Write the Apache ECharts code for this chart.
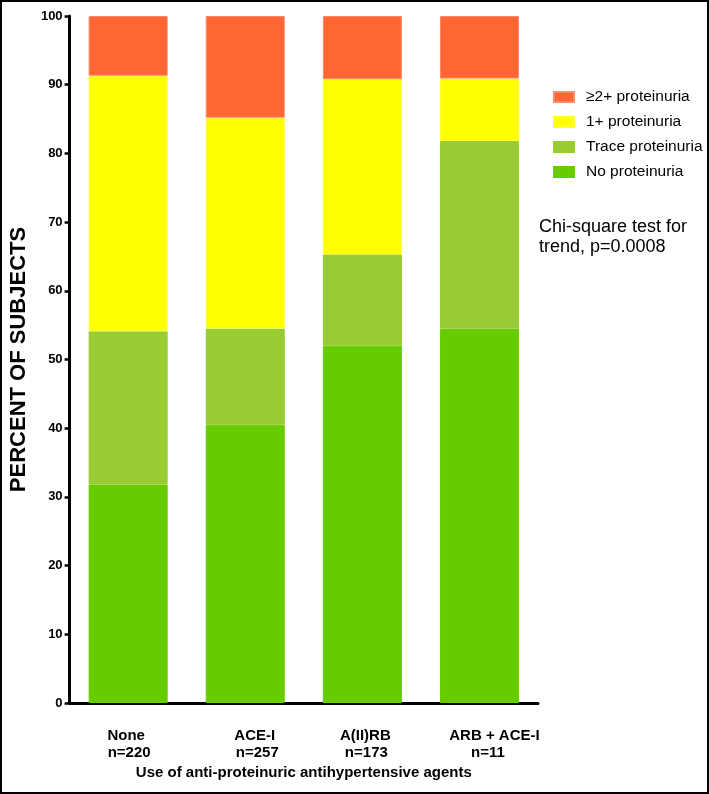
<!DOCTYPE html>
<html>
<head>
<meta charset="utf-8">
<script src="https://cdn.jsdelivr.net/npm/echarts@6/dist/echarts.min.js"></script>
<style>
html,body{margin:0;padding:0;background:#fff;}
#chart{width:709px;height:794px;}
</style>
</head>
<body>
<div id="chart"></div>
<script>
const groupNames = ['None', 'ACE-I', 'A(II)RB', 'ARB + ACE-I'];
const groupSizes = ['n=220', 'n=257', 'n=173', 'n=11'];
const noProteinuria = [31.8, 40.5, 52.0, 54.5];
const traceProteinuria = [22.3, 14.0, 13.3, 27.3];
const onePlusProteinuria = [37.2, 30.7, 25.5, 9.1];
const twoPlusProteinuria = [8.7, 14.8, 9.2, 9.1];
const yTicks = [0, 10, 20, 30, 40, 50, 60, 70, 80, 90, 100];
const categories = groupNames.map(function (g, i) { return g + '\n' + groupSizes[i]; });

// horizontal nudges of the two label lines (layout only)
const nameShift = [-2, 9.5, 3, 15];
const sizeShift = [1, 12, 4, 8.5];

const font = '"Liberation Sans", Arial, sans-serif';
const chart = echarts.init(document.getElementById('chart'));

const rich = {};
for (let i = 0; i < 4; i++) {
  const a = nameShift[i], b = sizeShift[i];
  rich['g' + i] = { fontFamily: font, fontSize: 15, fontWeight: 'bold', color: '#000', lineHeight: 17,
    padding: a >= 0 ? [0, 0, 0, 2 * a] : [0, -2 * a, 0, 0] };
  rich['n' + i] = { fontFamily: font, fontSize: 15, fontWeight: 'bold', color: '#000', lineHeight: 17,
    padding: b >= 0 ? [0, 0, 0, 2 * b] : [0, -2 * b, 0, 0] };
}

function bar(name, data, color, border) {
  return {
    name: name, type: 'bar', stack: 'total', data: data, barWidth: 79,
    itemStyle: { color: color, borderColor: border, borderWidth: 1 },
    emphasis: { disabled: true }
  };
}

chart.setOption({
  animation: false,
  grid: { left: 62, right: 171, top: 16, bottom: 91 },
  legend: {
    orient: 'vertical', left: 548, top: 84,
    itemWidth: 20, itemHeight: 10, itemGap: 9,
    icon: 'rect',
    data: ['≥2+ proteinuria', '1+ proteinuria', 'Trace proteinuria', 'No proteinuria'],
    textStyle: { fontFamily: font, fontSize: 15.5, lineHeight: 16, color: '#000', padding: [0, 0, 0, 7] }
  },
  xAxis: {
    type: 'category', data: categories,
    name: 'Use of anti-proteinuric antihypertensive agents',
    nameLocation: 'middle', nameGap: 61.5,
    nameTextStyle: { fontFamily: font, fontSize: 15, fontWeight: 'bold', color: '#000' },
    axisLine: { lineStyle: { color: '#000', width: 3 } },
    axisTick: { alignWithLabel: true, length: 8, lineStyle: { color: '#000', width: 3 } },
    axisLabel: {
      interval: 0, hideOverlap: false, margin: 24, rich: rich,
      formatter: function (v, i) {
        const parts = v.split('\n');
        return '{g' + i + '|' + parts[0] + '}\n{n' + i + '|' + parts[1] + '}';
      }
    }
  },
  yAxis: {
    type: 'value', min: 0, max: 100, interval: 10,
    name: 'PERCENT OF SUBJECTS', nameLocation: 'middle', nameGap: 21,
    nameTextStyle: { fontFamily: font, fontSize: 22, fontWeight: 'bold', color: '#000' },
    axisLine: { show: true, lineStyle: { color: '#000', width: 3 } },
    axisTick: { show: true, length: 5, lineStyle: { color: '#000', width: 2.5 } },
    splitLine: { show: false },
    axisLabel: {
      fontFamily: font, fontSize: 13, fontWeight: 'bold', color: '#000', margin: 7,
      formatter: function (v) { return yTicks.indexOf(v) >= 0 ? String(v) : ''; }
    }
  },
  series: [
    bar('No proteinuria', noProteinuria, '#66CC00', '#66CC00'),
    bar('Trace proteinuria', traceProteinuria, '#99CC33', '#99CC33'),
    bar('1+ proteinuria', onePlusProteinuria, '#FFFF00', '#FFFF33'),
    bar('≥2+ proteinuria', twoPlusProteinuria, '#FF6633', '#FF8866')
  ],
  graphic: [
    { type: 'rect', shape: { x: 1, y: 1, width: 707, height: 792 }, style: { fill: 'none', stroke: '#000', lineWidth: 2 }, silent: true },
    { type: 'text', left: 539, top: 217, style: { text: 'Chi-square test for\ntrend, p=0.0008', font: '18px ' + font, fill: '#000', lineHeight: 20 } }
  ]
});
</script>
</body>
</html>
